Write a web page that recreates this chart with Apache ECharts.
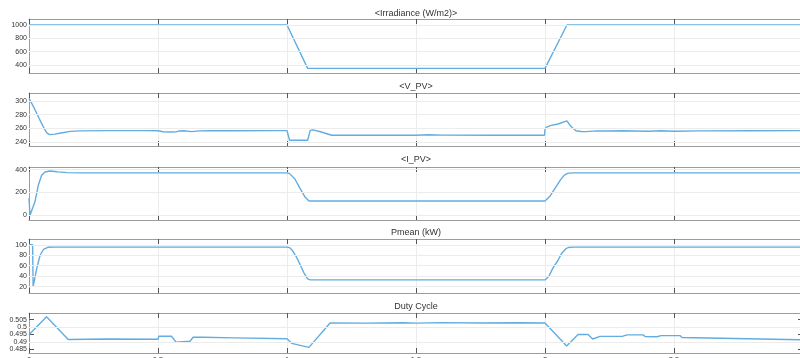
<!DOCTYPE html>
<html>
<head>
<meta charset="utf-8">
<script src="https://cdn.jsdelivr.net/npm/echarts@6/dist/echarts.min.js"></script>
<style>
  html, body { margin: 0; padding: 0; background: #ffffff; }
  #chart { width: 800px; height: 358px; }
</style>
</head>
<body>
<div id="chart"></div>
<script>
// Time axis (s)
const xTicks = [0, 0.5, 1, 1.5, 2, 2.5, 3];

// Irradiance (W/m2)
const tIrr = [0, 1.0, 1.08, 2.0, 2.085, 3.0];
const irr = [1000, 1000, 350, 350, 1000, 1000];
const irrTicks = [400, 600, 800, 1000];

// PV voltage
const tV = [0, 0.02, 0.04, 0.06, 0.07, 0.08, 0.1, 0.13, 0.16, 0.2, 0.3, 0.45, 0.5, 0.52, 0.55, 0.57, 0.58, 0.6, 0.63, 0.66, 0.7, 0.8, 0.95, 1.0,
  1.01, 1.03, 1.08, 1.083, 1.09, 1.1, 1.13, 1.173, 1.3, 1.5, 1.55, 1.6, 1.8, 1.998,
  2.0, 2.005, 2.02, 2.05, 2.085, 2.1, 2.12, 2.14, 2.16, 2.2, 2.25, 2.3, 2.4, 2.45, 2.5, 2.6, 2.8, 3.0];
const vpv = [304, 290, 274, 259, 253, 250.8, 251.5, 253.5, 255.5, 256.3, 256.6, 256.6, 256.4, 255, 254.5, 254.8, 256, 256.4, 255.2, 256.2, 256.4, 256.5, 256.6, 256.6,
  242.5, 242.5, 242.5, 243, 257, 257.8, 255, 249.8, 249.8, 249.9, 250.5, 250, 249.8, 249.8,
  258, 261.5, 264, 266.4, 271, 263, 256.5, 255.3, 255.2, 256.2, 256, 256.5, 255.8, 256.4, 255.6, 256.3, 256.5, 256.6];
const vTicks = [240, 260, 280, 300];

// PV current
const tI = [0, 0.004, 0.01, 0.023, 0.036, 0.049, 0.062, 0.081, 0.1, 0.113, 0.147, 0.2, 1.0,
  1.01, 1.03, 1.05, 1.07, 1.085, 2.0, 2.02, 2.04, 2.06, 2.075, 2.09, 2.11, 3.0];
const ipv = [150, 0, 0, 118, 263, 350, 379, 388, 384, 380, 374, 372, 372,
  365, 320, 238, 160, 125, 125, 170, 240, 310, 352, 369, 372, 372];
const iTicks = [0, 200, 400];

// Mean power (kW)
const tP = [0, 0.014, 0.016, 0.025, 0.03, 0.043, 0.056, 0.075, 0.1, 1.0,
  1.01, 1.02, 1.035, 1.05, 1.065, 1.08, 1.09, 2.0, 2.015, 2.03, 2.05, 2.065, 2.08, 2.09, 2.11, 3.0];
const pmean = [100, 100, 20, 42, 55, 80, 91, 95.3, 95.5, 95.5,
  94.5, 90, 78, 63, 47, 35, 33, 33, 40, 55, 70, 84, 92, 94.8, 95.5, 95.5];
const pTicks = [20, 40, 60, 80, 100];

// Duty cycle
const tD = [0, 0.068, 0.152, 0.3, 0.5, 0.503, 0.552, 0.57, 0.624, 0.636, 0.674, 0.8, 1.0,
  1.018, 1.085, 1.167, 1.3, 1.45, 1.5, 1.6, 1.75, 1.9, 2.0,
  2.084, 2.128, 2.167, 2.185, 2.213, 2.302, 2.318, 2.38, 2.388, 2.434, 2.45, 2.523, 2.531, 3.0];
const duty = [0.4948, 0.507, 0.4917, 0.4920, 0.4918, 0.4939, 0.4939, 0.4899, 0.4905, 0.4932, 0.4932, 0.4928, 0.4922,
  0.4891, 0.4864, 0.5028, 0.5027, 0.5029, 0.5027, 0.5030, 0.5028, 0.5029, 0.5028,
  0.4873, 0.4950, 0.4950, 0.4920, 0.4938, 0.4939, 0.4948, 0.4948, 0.4937, 0.4935, 0.4943, 0.4943, 0.4930, 0.4915];
const dTicks = [0.485, 0.49, 0.495, 0.5, 0.505];

const titles = ['<Irradiance (W/m2)>', '<V_PV>', '<I_PV>', 'Pmean (kW)', 'Duty Cycle'];

const panels = [
  { t: tIrr, v: irr, ticks: irrTicks, min: 280, max: 1090, top: 19, height: 54, titleTop: 9.5 },
  { t: tV, v: vpv, ticks: vTicks, min: 234, max: 312, top: 93, height: 53, titleTop: 82.5 },
  { t: tI, v: ipv, ticks: iTicks, min: -41, max: 423, top: 167, height: 53, titleTop: 155.5 },
  { t: tP, v: pmean, ticks: pTicks, min: 8, max: 111, top: 239, height: 54, titleTop: 228.5 },
  { t: tD, v: duty, ticks: dTicks, min: 0.4826, max: 0.5095, top: 313, height: 40, titleTop: 302.5 }
];

const LINE = '#62ade0';
const BOX = '#9c9c9c';
const TICK = '#555555';
const GRID = '#ececec';
const FONT = 'Liberation Sans, Arial, sans-serif';

const option = {
  animation: false,
  backgroundColor: '#ffffff',
  title: [], grid: [], xAxis: [], yAxis: [], series: []
};

panels.forEach((p, i) => {
  const last = i === panels.length - 1;
  option.title.push({
    text: titles[i], left: 416, top: p.titleTop, textAlign: 'center', padding: 0,
    textStyle: { fontSize: 9, fontWeight: 'normal', color: '#333', fontFamily: FONT }
  });
  option.grid.push({
    left: 29, right: -3, top: p.top, height: p.height,
    containLabel: false, outerBoundsMode: 'none'
  });
  // bottom time axis
  option.xAxis.push({
    type: 'value', gridIndex: i, min: 0, max: 3, interval: 0.5, position: 'bottom',
    axisLine: { show: true, onZero: false, lineStyle: { color: BOX, width: 1 } },
    axisTick: { show: true, inside: true, length: 5, lineStyle: { color: TICK } },
    axisLabel: { show: last, fontSize: 7.5, color: '#333', margin: 3, fontFamily: FONT, formatter: v => String(v) },
    splitLine: { show: true, lineStyle: { color: GRID, width: 1 } }
  });
  // mirrored top edge
  option.xAxis.push({
    type: 'value', gridIndex: i, min: 0, max: 3, interval: 0.5, position: 'top',
    axisLine: { show: true, onZero: false, lineStyle: { color: BOX, width: 1 } },
    axisTick: { show: true, inside: true, length: 5, lineStyle: { color: TICK } },
    axisLabel: { show: false }, splitLine: { show: false }
  });
  option.yAxis.push({
    type: 'value', gridIndex: i, min: p.min, max: p.max, position: 'left',
    axisLine: { show: true, onZero: false, lineStyle: { color: BOX, width: 1 } },
    axisTick: { show: true, inside: true, length: 5, customValues: p.ticks, lineStyle: { color: TICK } },
    axisLabel: {
      show: true, customValues: p.ticks, interval: 0, hideOverlap: false,
      fontSize: 7, color: '#333', margin: 2, fontFamily: FONT, formatter: v => String(v)
    },
    splitLine: { show: false }
  });
  // mirrored right edge
  option.yAxis.push({
    type: 'value', gridIndex: i, min: p.min, max: p.max, position: 'right',
    axisLine: { show: true, onZero: false, lineStyle: { color: BOX, width: 1 } },
    axisTick: { show: true, inside: true, length: 5, customValues: p.ticks, lineStyle: { color: TICK } },
    axisLabel: { show: false }, splitLine: { show: false }
  });
  option.series.push({
    type: 'line', xAxisIndex: 2 * i, yAxisIndex: 2 * i,
    data: p.t.map((t, k) => [t, p.v[k]]),
    showSymbol: false, symbol: 'none',
    lineStyle: { color: LINE, width: 1.4 },
    markLine: {
      silent: true, symbol: 'none', label: { show: false }, animation: false,
      lineStyle: { color: GRID, type: 'solid', width: 1 },
      emphasis: { disabled: true },
      data: p.ticks.map(v => ({ yAxis: v }))
    },
    z: 3
  });
});

const chart = echarts.init(document.getElementById('chart'), null, { renderer: 'canvas' });
chart.setOption(option);
</script>
</body>
</html>
